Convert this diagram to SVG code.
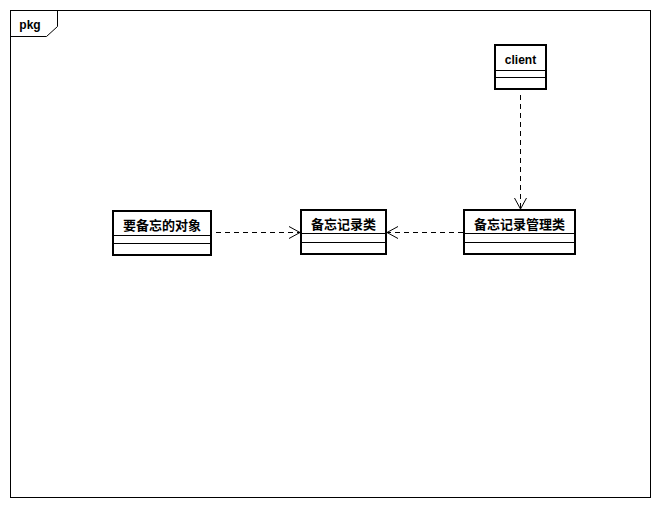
<svg xmlns="http://www.w3.org/2000/svg" width="660" height="509" viewBox="0 0 660 509">
<style>
.box{fill:#fff;stroke:#000;stroke-width:2}
.div{stroke:#000;stroke-width:1}
.t{font-family:"Liberation Sans","Noto Sans CJK SC",sans-serif;font-size:12px;font-weight:bold;text-anchor:middle;fill:#000}
.c{font-size:13px}
.dep{fill:none;stroke:#000;stroke-width:1;stroke-dasharray:5,4}
</style>
<defs>
<marker id="open" markerWidth="14" markerHeight="14" refX="12" refY="7" orient="auto" markerUnits="userSpaceOnUse">
<path d="M1,1 L12,7 L1,13" fill="none" stroke="#000" stroke-width="1"/>
</marker>
</defs>
<rect width="660" height="509" fill="#fff"/>
<g id="frame">
<rect x="10.5" y="10.5" width="640" height="487" fill="none" stroke="#000" stroke-width="1"/>
<path d="M10.5,36.5 H46.5 L57.5,26.5 V10.5" fill="none" stroke="#000" stroke-width="1"/>
<text x="30" y="29" class="t">pkg</text>
</g>
<g id="client">
<rect class="box" x="495" y="45" width="51" height="44"/>
<line class="div" x1="495" y1="70.5" x2="546" y2="70.5"/>
<line class="div" x1="495" y1="77.5" x2="546" y2="77.5"/>
<text x="520.5" y="64" class="t">client</text>
</g>
<g id="originator">
<rect class="box" x="113" y="211" width="98" height="44"/>
<line class="div" x1="113" y1="235.5" x2="211" y2="235.5"/>
<line class="div" x1="113" y1="243.5" x2="211" y2="243.5"/>
<text x="162" y="229.5" class="t c">要备忘的对象</text>
</g>
<g id="memento">
<rect class="box" x="301" y="210" width="85" height="44"/>
<line class="div" x1="301" y1="233.5" x2="386" y2="233.5"/>
<line class="div" x1="301" y1="242.5" x2="386" y2="242.5"/>
<text x="343.5" y="228.5" class="t c">备忘记录类</text>
</g>
<g id="caretaker">
<rect class="box" x="464" y="210" width="111" height="44"/>
<line class="div" x1="464" y1="233.5" x2="575" y2="233.5"/>
<line class="div" x1="464" y1="242.5" x2="575" y2="242.5"/>
<text x="519.5" y="228.5" class="t c">备忘记录管理类</text>
</g>
<g id="connectors">
<line class="dep" x1="216" y1="232.5" x2="300" y2="232.5" marker-end="url(#open)"/>
<line class="dep" x1="463" y1="232.5" x2="387" y2="232.5" marker-end="url(#open)"/>
<line class="dep" x1="520.5" y1="95" x2="520.5" y2="209" marker-end="url(#open)"/>
</g>
</svg>
